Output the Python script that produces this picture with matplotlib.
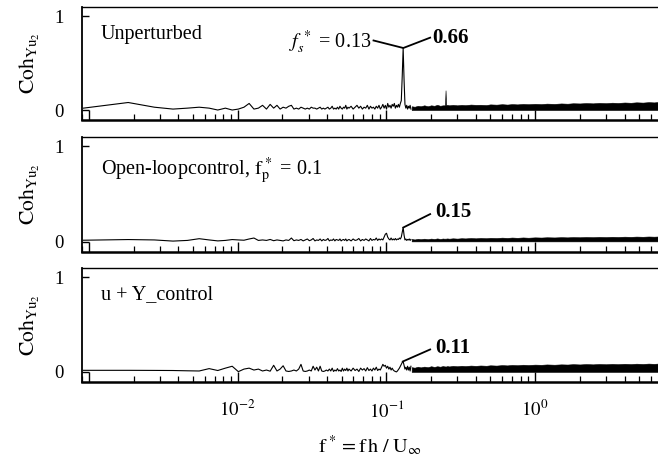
import numpy as np
import matplotlib
matplotlib.use('Agg')
import matplotlib.pyplot as plt
from matplotlib.ticker import FixedLocator, LogLocator, NullFormatter, FixedFormatter

plt.rcParams['font.family'] = ['Liberation Serif', 'DejaVu Serif']
plt.rcParams['mathtext.fontset'] = 'stix'

# frequency bins of the spectrum (bin width df)
df = 0.00092
k_line = list(range(1, 61)) + list(range(61, 160, 2))

# coherence values at the bins in k_line, one list per panel
coh_unpert = [0.02, 0.08, 0.03, 0.01, 0.02, 0.03, 0.02, 0.00, 0.02, 0.00, 0.01, 0.03, 0.07, 0.01, 0.02,
              0.05, 0.01, 0.06, 0.02, 0.05, 0.01, 0.03, 0.02, 0.04, 0.05, 0.01, 0.02, 0.01, 0.03, 0.02,
              0.01, 0.02, 0.01, 0.03, 0.02, 0.02, 0.01, 0.02, 0.03, 0.01, 0.02, 0.01, 0.02, 0.03, 0.01,
              0.02, 0.04, 0.01, 0.02, 0.01, 0.03, 0.01, 0.04, 0.02, 0.01, 0.03, 0.02, 0.05, 0.01, 0.03,
              0.02, 0.04, 0.01, 0.03, 0.05, 0.02, 0.04, 0.01, 0.03, 0.02, 0.05, 0.01, 0.04, 0.02, 0.03,
              0.01, 0.04, 0.02, 0.05, 0.01,
              0.03, 0.06, 0.02, 0.05, 0.01, 0.07, 0.03, 0.05, 0.02, 0.06, 0.04, 0.07, 0.02, 0.05, 0.03,
              0.06, 0.03, 0.07, 0.10, 0.36,
              0.66, 0.32, 0.06, 0.02, 0.05, 0.01, 0.04, 0.02, 0.05, 0.01]
coh_open = [0.017, 0.024, 0.02, 0.008, 0.015, 0.033, 0.02, 0.01, 0.015, 0.024, 0.02, 0.017, 0.03, 0.04, 0.015,
            0.02, 0.015, 0.025, 0.012, 0.02, 0.015, 0.01, 0.02, 0.015, 0.04, 0.012, 0.02, 0.015, 0.025, 0.01,
            0.02, 0.03, 0.012, 0.02, 0.035, 0.01, 0.02, 0.015, 0.03, 0.01, 0.025, 0.015, 0.02, 0.035, 0.01,
            0.02, 0.015, 0.03, 0.01, 0.025, 0.02, 0.015, 0.03, 0.01, 0.02, 0.025, 0.015, 0.03, 0.01, 0.02,
            0.025, 0.01, 0.03, 0.015, 0.02, 0.035, 0.01, 0.025, 0.015, 0.03, 0.02, 0.01, 0.035, 0.015, 0.025,
            0.02, 0.04, 0.015, 0.03, 0.02,
            0.03, 0.02, 0.05, 0.08, 0.09, 0.05, 0.03, 0.02, 0.04, 0.02, 0.03, 0.02, 0.035, 0.02, 0.03,
            0.025, 0.04, 0.03, 0.05, 0.10,
            0.15, 0.07, 0.02, 0.03, 0.015, 0.025, 0.02, 0.03, 0.015, 0.025]
coh_uy = [0.017, 0.017, 0.016, 0.015, 0.012, 0.01, 0.035, 0.015, 0.04, 0.06, 0.003, 0.03, 0.04, 0.02, 0.03,
          0.01, 0.02, 0.008, 0.07, 0.01, 0.03, 0.065, 0.01, 0.005, 0.01, 0.02, 0.01, 0.03, 0.08, 0.01,
          0.005, 0.01, 0.02, 0.01, 0.06, 0.02, 0.05, 0.01, 0.06, 0.01, 0.005, 0.01, 0.02, 0.01, 0.03,
          0.01, 0.04, 0.005, 0.02, 0.01, 0.035, 0.01, 0.02, 0.005, 0.04, 0.01, 0.03, 0.015, 0.04, 0.01,
          0.03, 0.01, 0.04, 0.015, 0.03, 0.005, 0.04, 0.02, 0.035, 0.01, 0.045, 0.015, 0.03, 0.01, 0.04,
          0.02, 0.05, 0.015, 0.03, 0.02,
          0.05, 0.08, 0.06, 0.07, 0.04, 0.06, 0.03, 0.05, 0.02, 0.04, 0.02, 0.01, 0.005, 0.0, 0.01,
          0.025, 0.04, 0.06, 0.08, 0.10,
          0.11, 0.07, 0.03, 0.05, 0.02, 0.06, 0.02, 0.05, 0.01, 0.06]

# dense high-frequency part: upper envelope of the black band
band_f = [0.148, 0.155, 0.163, 0.17, 0.18, 0.19, 0.2, 0.21, 0.22, 0.23, 0.24, 0.248, 0.25, 0.252,
          0.256, 0.265, 0.28, 0.3, 0.32, 0.34, 0.37, 0.4, 0.43, 0.47, 0.5, 0.55, 0.6, 0.65, 0.7,
          0.76, 0.83, 0.9, 1.0, 1.1, 1.2, 1.35, 1.5, 1.65, 1.8, 2.0, 2.2, 2.45, 2.7, 3.0, 3.3, 3.6,
          4.0, 4.4, 4.8, 5.3, 5.8, 6.3, 6.7]
band_unpert = [0.04, 0.035, 0.045, 0.04, 0.05, 0.04, 0.05, 0.045, 0.055, 0.045, 0.05, 0.05, 0.21, 0.05,
               0.055, 0.05, 0.055, 0.05, 0.055, 0.052, 0.058, 0.055, 0.056, 0.053, 0.06, 0.057, 0.062, 0.058,
               0.063, 0.06, 0.065, 0.062, 0.066, 0.063, 0.068, 0.065, 0.07, 0.067, 0.072, 0.07, 0.074, 0.071,
               0.076, 0.073, 0.078, 0.075, 0.08, 0.077, 0.082, 0.079, 0.084, 0.081, 0.085]
band_open = [0.03, 0.025, 0.032, 0.028, 0.033, 0.028, 0.034, 0.03, 0.036, 0.03, 0.035, 0.032, 0.036, 0.032,
             0.036, 0.033, 0.037, 0.034, 0.038, 0.036, 0.04, 0.037, 0.041, 0.038, 0.042, 0.04, 0.044, 0.041,
             0.045, 0.042, 0.046, 0.043, 0.047, 0.045, 0.048, 0.046, 0.049, 0.047, 0.05, 0.048, 0.051, 0.049,
             0.052, 0.05, 0.053, 0.051, 0.054, 0.052, 0.055, 0.053, 0.056, 0.054, 0.056]
band_uy = [0.05, 0.045, 0.055, 0.048, 0.056, 0.05, 0.06, 0.053, 0.06, 0.055, 0.062, 0.057, 0.06, 0.056,
           0.062, 0.058, 0.064, 0.06, 0.065, 0.062, 0.067, 0.064, 0.068, 0.065, 0.07, 0.067, 0.072, 0.069,
           0.074, 0.071, 0.076, 0.073, 0.077, 0.075, 0.079, 0.076, 0.08, 0.078, 0.082, 0.079, 0.083, 0.08,
           0.084, 0.081, 0.085, 0.082, 0.086, 0.083, 0.087, 0.084, 0.088, 0.085, 0.088]
band_floor = [0.0, 0.005, 0.0]

titles = ['Unperturbed', r'Open-loopcontrol, $\mathrm{f_p^{\,*}}$ = 0.1', 'u + Y_control']
title_y = [0.755, 0.70, 0.77]
peak_f = [0.13, 0.13, 0.129]
peak_val = [0.66, 0.15, 0.11]
peak_txt = ['0.66', '0.15', '0.11']

f_line = np.array(k_line) * df
series = [coh_unpert, coh_open, coh_uy]
bands = [band_unpert, band_open, band_uy]

fig = plt.figure(figsize=(6.58, 4.59), dpi=100)
boxes = [(0.7386, 0.9847), (0.451, 0.7015), (0.1678, 0.416)]
left = 82 / 658

for i in range(3):
    b, t = boxes[i]
    ax = fig.add_axes([left, b, 1.0 - left, t - b])
    ax.plot(f_line, series[i], color='black', lw=0.8)
    ax.fill_between(band_f, band_floor[i], bands[i], color='black', lw=0.4)
    ax.set_xscale('log')
    ax.set_xlim(0.0009, 6.7)
    ax.set_ylim(-0.106, 1.096)

    ax.xaxis.set_major_locator(FixedLocator([1e-3, 1e-2, 1e-1, 1.0]))
    ax.xaxis.set_minor_locator(LogLocator(base=10, subs=np.arange(2, 10)))
    ax.xaxis.set_minor_formatter(NullFormatter())
    if i == 2:
        ax.xaxis.set_major_formatter(FixedFormatter(['', r'$\mathrm{10^{-2}}$',
                                                     r'$\mathrm{10^{-1}}$', r'$\mathrm{10^{0}}$']))
        ax.set_xlabel(r'$\mathrm{f^{\,*} = f\,h\ /\ U_{\infty}}$', fontsize=14.5, labelpad=9)
    else:
        ax.xaxis.set_major_formatter(NullFormatter())
    ax.tick_params(axis='x', which='major', direction='in', length=7, width=1.0,
                   labelsize=13.5, pad=13, top=False)
    ax.tick_params(axis='x', which='minor', direction='in', length=4, width=0.9, top=False)

    ax.set_yticks([0, 1])
    ax.set_yticklabels(['0', '1'])
    ax.tick_params(axis='y', direction='in', length=5, width=1.0, labelsize=13.5, pad=13, right=False)
    ax.set_ylabel(r'$\mathrm{Coh_{Yu_2}}$', fontsize=15.5, labelpad=9)

    ax.spines['right'].set_visible(False)
    ax.spines['top'].set_linewidth(1.0)
    ax.spines['left'].set_linewidth(1.3)
    ax.spines['bottom'].set_linewidth(1.8)

    ax.text(0.0012, title_y[i], titles[i], fontsize=14.5, va='baseline', ha='left')

    # callout line from the peak to the bold value
    if i == 0:
        ax.plot([0.082, peak_f[i], 0.197], [0.74, peak_val[i], 0.77], color='black', lw=1.3)
        ax.text(0.079, 0.72, r'$f_s^{\,*}$ = 0.13', fontsize=14.5, ha='right', va='center')
        ax.text(0.204, 0.765, peak_txt[i], fontsize=15, fontweight='bold', ha='left', va='center')
    else:
        ty = [0, 0.29, 0.237][i]
        ax.plot([peak_f[i], 0.197], [peak_val[i], ty], color='black', lw=1.3)
        ax.text(0.212, ty + 0.02, peak_txt[i], fontsize=15, fontweight='bold', ha='left', va='center')

fig.savefig('out.png', dpi=100)
